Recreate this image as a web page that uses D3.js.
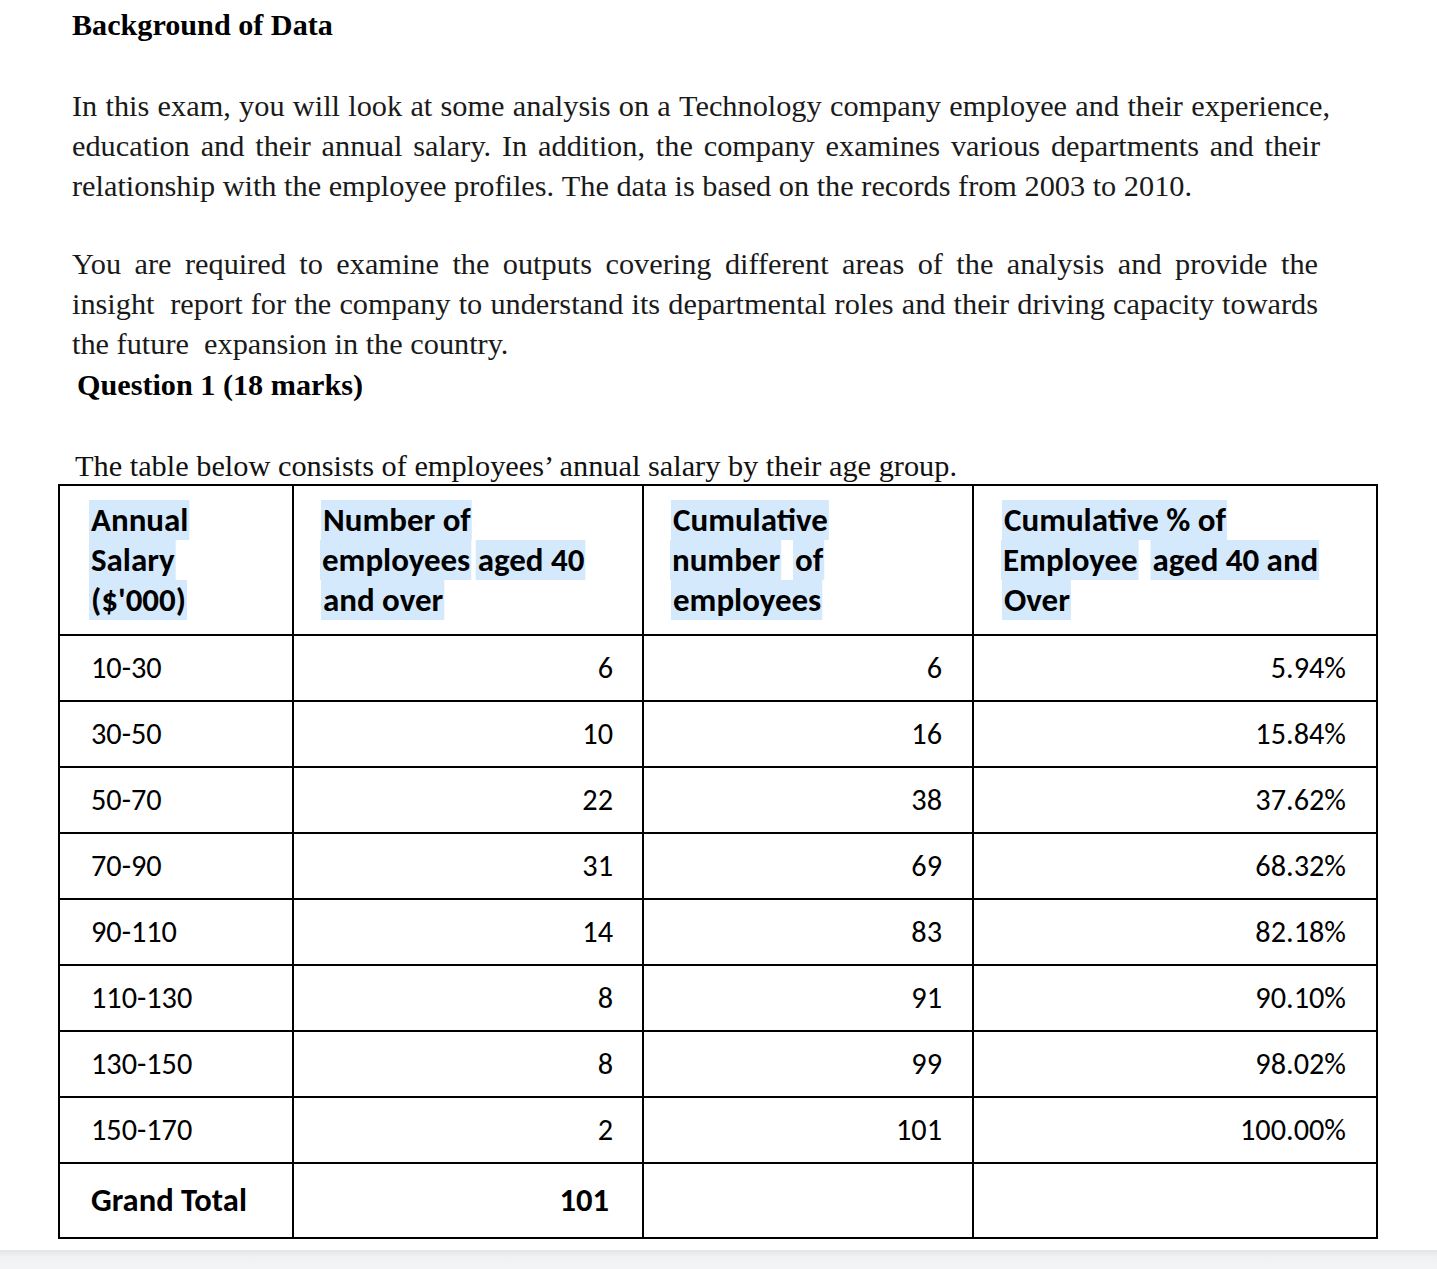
<!DOCTYPE html>
<html>
<head>
<meta charset="utf-8">
<script src="https://cdn.jsdelivr.net/npm/d3@7"></script>
<style>
  body { margin: 0; background: #fff; }
  svg { display: block; }
  .serif { font-family: "Tinos", serif; }
  .sans { font-family: "Carlito", sans-serif; }
</style>
</head>
<body>
<div id="page"></div>
<script>
// table data
const salaryBands = ["10-30", "30-50", "50-70", "70-90", "90-110", "110-130", "130-150", "150-170"];
const employees40 = [6, 10, 22, 31, 14, 8, 8, 2];
const cumulative = [6, 16, 38, 69, 83, 91, 99, 101];
const cumulativePct = ["5.94%", "15.84%", "37.62%", "68.32%", "82.18%", "90.10%", "98.02%", "100.00%"];
const grandTotal = 101;

// header cells, one array per line, each line split in highlighted pieces
const headers = [
  [["Annual"], ["Salary"], ["($'000)"]],
  [["Number of"], ["employees", "aged 40"], ["and over"]],
  [["Cumulative"], ["number ", "of"], ["employees"]],
  [["Cumulative % of"], ["Employee ", "aged 40 and"], ["Over"]]
];

const para1 = [
  "In this exam, you will look at some analysis on a Technology company employee and their experience,",
  "education and their annual salary. In addition, the company examines various departments and their",
  "relationship with the employee profiles. The data is based on the records from 2003 to 2010."
];
const para2 = [
  "You are required to examine the outputs covering different areas of the analysis and provide the",
  "insight  report for the company to understand its departmental roles and their driving capacity towards",
  "the future  expansion in the country."
];

const W = 1437, H = 1269;

const svg = d3.select("#page").append("svg")
    .attr("width", W)
    .attr("height", H);

// grey strip at the bottom of the page
const grad = svg.append("defs").append("linearGradient")
    .attr("id", "shade").attr("x1", 0).attr("y1", 0).attr("x2", 0).attr("y2", 1);
grad.append("stop").attr("offset", "0%").attr("stop-color", "#e3e5e8");
grad.append("stop").attr("offset", "40%").attr("stop-color", "#f1f2f4");
grad.append("stop").attr("offset", "100%").attr("stop-color", "#f3f4f6");
svg.append("rect").attr("x", 0).attr("y", 1250).attr("width", W).attr("height", H - 1250)
    .attr("fill", "url(#shade)");

function measure(str, cls, size, weight) {
  const t = svg.append("text")
      .attr("class", cls)
      .style("font-size", size + "px").style("font-weight", weight || "normal")
      .style("white-space", "pre")
      .text(str);
  const w = t.node().getComputedTextLength();
  t.remove();
  return w;
}
// font size that makes str span the given width
function fit(str, cls, width, weight) {
  return 100 * width / measure(str, cls, 100, weight);
}

function label(parent, str, cls, size, weight) {
  return parent.append("text")
      .attr("class", cls)
      .style("font-size", size + "px")
      .style("font-weight", weight || "normal")
      .text(str);
}

// ---- heading and paragraphs ----
label(svg, "Background of Data", "serif", fit("Background of Data", "serif", 261, "bold"), "bold")
    .attr("x", 72).attr("y", 35);

// body size from the last (not justified) line of the first paragraph
const bodySize = fit(para1[2], "serif", 1120);

function drawPara(lines, y0, widths) {
  lines.forEach((line, i) => {
    const yy = y0 + i * 40;
    const words = line.split(" ");
    const ww = words.map(w => w ? measure(w, "serif", bodySize) : 0);
    const space = measure(" ", "serif", bodySize);
    const nEmpty = words.filter(w => !w).length;
    const nWords = words.length - nEmpty;
    const gap = widths[i] ? (widths[i] - d3.sum(ww) - space * nEmpty) / (nWords - 1) : space;
    let x = 72;
    words.forEach((w, j) => {
      if (!w) { x += space; return; }
      label(svg, w, "serif", bodySize)
          .attr("x", x).attr("y", yy)
          .attr("fill", "#1a1a1a");
      x += ww[j] + gap;
    });
  });
}
drawPara(para1, 116, [1258, 1248, null]);
drawPara(para2, 274, [1246, 1246, null]);

label(svg, "Question 1 (18 marks)", "serif", 30, "bold")
    .attr("x", 77).attr("y", 395)
    .attr("textLength", 286).attr("lengthAdjust", "spacingAndGlyphs");

label(svg, "The table below consists of employees\u2019 annual salary by their age group.", "serif", 30)
    .attr("x", 75).attr("y", 476)
    .attr("fill", "#111")
    .attr("textLength", 882).attr("lengthAdjust", "spacingAndGlyphs");

// ---- table ----
const colX = [59, 293, 643, 973, 1377];
const headTop = 485, headBottom = 635, totalBottom = 1238;

const y = d3.scaleBand()
    .domain(salaryBands)
    .range([headBottom, 1163]);
const totalTop = y.range()[1];

const g = svg.append("g");

// header text with highlight
const headX = [91, 323, 673, 1004];
const hSize = fit("Cumulative % of", "sans", 222, "bold");
headers.forEach((col, ci) => {
  col.forEach((pieces, li) => {
    const base = 531 + li * 40;
    let x = headX[ci] - (li === 1 && ci !== 0 ? 1 : 0);
    pieces.forEach(p => {
      const w = measure(p, "sans", hSize, "bold");
      const txt = p.trimEnd();
      const tw = measure(txt, "sans", hSize, "bold");
      g.append("rect")
          .attr("x", x - 2).attr("y", base - 31)
          .attr("width", tw + 3).attr("height", 40)
          .attr("fill", "#d4e9fb");
      label(g, txt, "sans", hSize, "bold")
          .attr("x", x).attr("y", base)
          .attr("fill", "#000");
      x += w + measure(" ", "sans", hSize, "bold");
    });
  });
});

// body rows
const rows = salaryBands.map((b, i) => ({
  band: b, n: employees40[i], cum: cumulative[i], pct: cumulativePct[i]
}));
const bSize = fit("100.00%", "sans", 106);
const rowG = g.selectAll(".row").data(rows).enter().append("g")
    .attr("class", "row")
    .attr("transform", d => `translate(0,${y(d.band) + y.bandwidth() / 2 + 10})`);

const cells = [
  {x: 91, anchor: "start", val: d => d.band},
  {x: 613, anchor: "end", val: d => d.n},
  {x: 942, anchor: "end", val: d => d.cum},
  {x: 1346, anchor: "end", val: d => d.pct}
];
cells.forEach(c => {
  rowG.append("text")
      .attr("class", "sans")
      .attr("x", c.x).attr("text-anchor", c.anchor)
      .style("font-size", bSize + "px")
      .text(c.val);
});

// grand total row
const totalMid = (totalTop + totalBottom) / 2 + 10;
const tSize = fit("Grand Total", "sans", 156, "bold");
label(g, "Grand Total", "sans", tSize, "bold").attr("x", 91).attr("y", totalMid);
label(g, grandTotal, "sans", tSize, "bold").attr("x", 609).attr("y", totalMid)
    .attr("text-anchor", "end");

// grid lines
const hLines = [headTop, headBottom].concat(salaryBands.slice(1).map(b => y(b)), [totalTop, totalBottom]);
g.selectAll(".hl").data(hLines).enter().append("line")
    .attr("x1", colX[0] - 1).attr("x2", colX[4] + 1)
    .attr("y1", d => d).attr("y2", d => d)
    .attr("stroke", "#000").attr("stroke-width", 2);
g.selectAll(".vl").data(colX).enter().append("line")
    .attr("x1", d => d).attr("x2", d => d)
    .attr("y1", headTop).attr("y2", totalBottom)
    .attr("stroke", "#000").attr("stroke-width", 2);
</script>
</body>
</html>
